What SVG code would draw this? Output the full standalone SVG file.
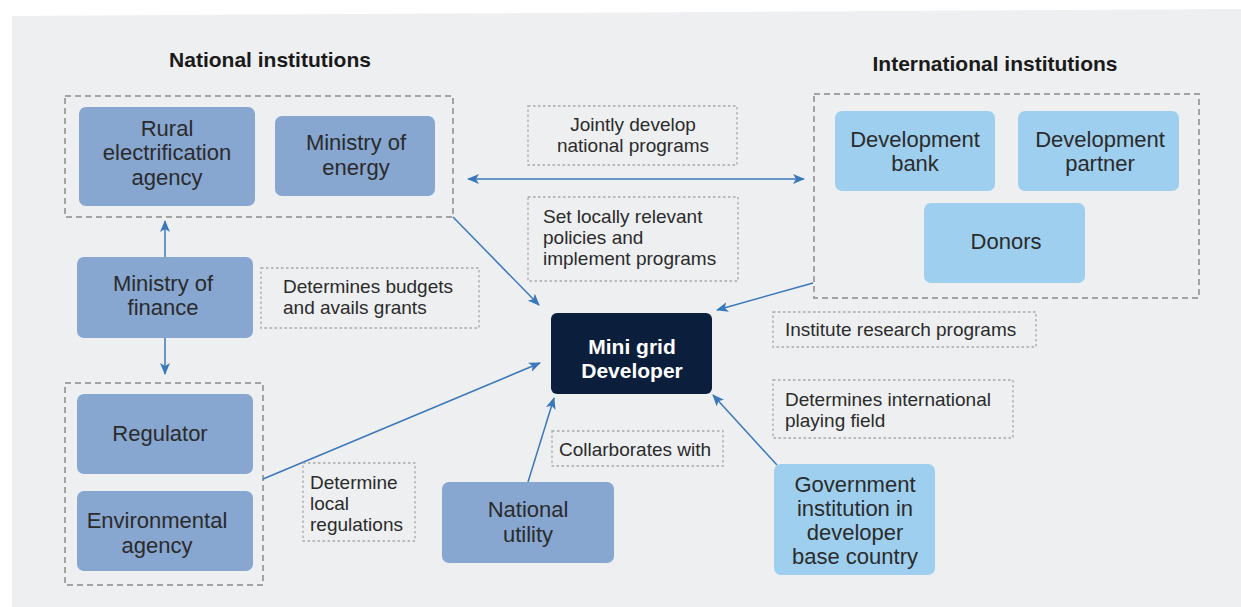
<svg xmlns="http://www.w3.org/2000/svg" width="1241" height="607" viewBox="0 0 1241 607">
<defs>
<style>
.bg{fill:#eeeff1}
.grp{fill:none;stroke:#a3a3a3;stroke-width:2;stroke-dasharray:6 4}
.lbl{fill:none;stroke:#a8a8a8;stroke-width:1.3;stroke-dasharray:2.5 2.5}
.nat{fill:#87a6d0}
.intl{fill:#9ecfee}
.core{fill:#0b1f3d}
.t{font-family:"Liberation Sans",Arial,sans-serif;font-size:22px;fill:#2b2b2b;text-anchor:middle}
.l{font-family:"Liberation Sans",Arial,sans-serif;font-size:19px;fill:#2b2b2b}
.h{font-family:"Liberation Sans",Arial,sans-serif;font-size:21px;font-weight:bold;fill:#1a1a1a;text-anchor:middle}
.w{font-family:"Liberation Sans",Arial,sans-serif;font-size:21px;font-weight:bold;fill:#ffffff;text-anchor:middle}
.c{fill:none;stroke:#3b78bb;stroke-width:1.5}
</style>
<marker id="ah" viewBox="0 0 12 10" refX="11" refY="5" markerWidth="12" markerHeight="10" markerUnits="userSpaceOnUse" orient="auto-start-reverse">
<path d="M0,0 L12,5 L0,10 L3,5 Z" fill="#3b78bb"/>
</marker>
</defs>
<polygon class="bg" points="12,16 1241,9 1241,607 12,607"/>

<text class="h" x="270" y="67">National institutions</text>
<text class="h" x="995" y="71">International institutions</text>

<g id="group-national-top"><rect class="grp" x="65" y="96" width="388" height="121"/></g>
<g id="group-national-bottom"><rect class="grp" x="65" y="383" width="198" height="202"/></g>
<g id="group-international"><rect class="grp" x="814" y="94" width="385" height="204"/></g>

<g id="connectors">
<line class="c" x1="468" y1="179" x2="804" y2="179" marker-start="url(#ah)" marker-end="url(#ah)"/>
<line class="c" x1="453" y1="217" x2="539" y2="305" marker-end="url(#ah)"/>
<line class="c" x1="813" y1="283" x2="717" y2="310" marker-end="url(#ah)"/>
<line class="c" x1="165" y1="257" x2="165" y2="221" marker-end="url(#ah)"/>
<line class="c" x1="165" y1="338" x2="165" y2="374" marker-end="url(#ah)"/>
<line class="c" x1="263" y1="479" x2="540" y2="363" marker-end="url(#ah)"/>
<line class="c" x1="528" y1="482" x2="554" y2="398" marker-end="url(#ah)"/>
<line class="c" x1="777" y1="465" x2="713" y2="395" marker-end="url(#ah)"/>
</g>

<g id="rural-electrification-agency">
<rect class="nat" x="79" y="107" width="176" height="99" rx="7"/>
<text class="t" x="167" y="136">Rural</text>
<text class="t" x="167" y="160">electrification</text>
<text class="t" x="167" y="185">agency</text>
</g>
<g id="ministry-of-energy">
<rect class="nat" x="275" y="116" width="160" height="80" rx="7"/>
<text class="t" x="356" y="150">Ministry of</text>
<text class="t" x="356" y="175">energy</text>
</g>
<g id="ministry-of-finance">
<rect class="nat" x="77" y="257" width="176" height="81" rx="7"/>
<text class="t" x="163" y="291">Ministry of</text>
<text class="t" x="163" y="315">finance</text>
</g>
<g id="regulator">
<rect class="nat" x="77" y="394" width="176" height="80" rx="7"/>
<text class="t" x="160" y="441">Regulator</text>
</g>
<g id="environmental-agency">
<rect class="nat" x="77" y="491" width="176" height="80" rx="7"/>
<text class="t" x="157" y="528">Environmental</text>
<text class="t" x="157" y="553">agency</text>
</g>
<g id="national-utility">
<rect class="nat" x="442" y="482" width="172" height="81" rx="7"/>
<text class="t" x="528" y="517">National</text>
<text class="t" x="528" y="542">utility</text>
</g>
<g id="development-bank">
<rect class="intl" x="835" y="111" width="160" height="80" rx="7"/>
<text class="t" x="915" y="147">Development</text>
<text class="t" x="915" y="171">bank</text>
</g>
<g id="development-partner">
<rect class="intl" x="1018" y="111" width="161" height="80" rx="7"/>
<text class="t" x="1100" y="147">Development</text>
<text class="t" x="1100" y="171">partner</text>
</g>
<g id="donors">
<rect class="intl" x="924" y="203" width="161" height="80" rx="7"/>
<text class="t" x="1006" y="249">Donors</text>
</g>
<g id="government-institution">
<rect class="intl" x="774" y="464" width="161" height="111" rx="7"/>
<text class="t" x="855" y="492">Government</text>
<text class="t" x="855" y="516">institution in</text>
<text class="t" x="855" y="540">developer</text>
<text class="t" x="855" y="564">base country</text>
</g>
<g id="mini-grid-developer">
<rect class="core" x="551" y="313" width="161" height="81" rx="6"/>
<text class="w" x="632" y="354">Mini grid</text>
<text class="w" x="632" y="378">Developer</text>
</g>

<g id="label-jointly">
<rect class="lbl" x="528" y="106" width="209" height="59"/>
<text class="l" x="633" y="131" text-anchor="middle">Jointly develop</text>
<text class="l" x="633" y="152" text-anchor="middle">national programs</text>
</g>
<g id="label-set-locally">
<rect class="lbl" x="528" y="197" width="210" height="84"/>
<text class="l" x="543" y="223">Set locally relevant</text>
<text class="l" x="543" y="244">policies and</text>
<text class="l" x="543" y="265">implement programs</text>
</g>
<g id="label-budgets">
<rect class="lbl" x="261" y="268" width="218" height="60"/>
<text class="l" x="283" y="293">Determines budgets</text>
<text class="l" x="283" y="314">and avails grants</text>
</g>
<g id="label-research">
<rect class="lbl" x="773" y="312" width="263" height="35"/>
<text class="l" x="785" y="336">Institute research programs</text>
</g>
<g id="label-international">
<rect class="lbl" x="773" y="380" width="240" height="58"/>
<text class="l" x="785" y="406">Determines international</text>
<text class="l" x="785" y="427">playing field</text>
</g>
<g id="label-collaborates">
<rect class="lbl" x="552" y="431" width="171" height="35"/>
<text class="l" x="559" y="456">Collarborates with</text>
</g>
<g id="label-regulations">
<rect class="lbl" x="303" y="463" width="112" height="78"/>
<text class="l" x="310" y="489">Determine</text>
<text class="l" x="310" y="510">local</text>
<text class="l" x="310" y="531">regulations</text>
</g>
</svg>
